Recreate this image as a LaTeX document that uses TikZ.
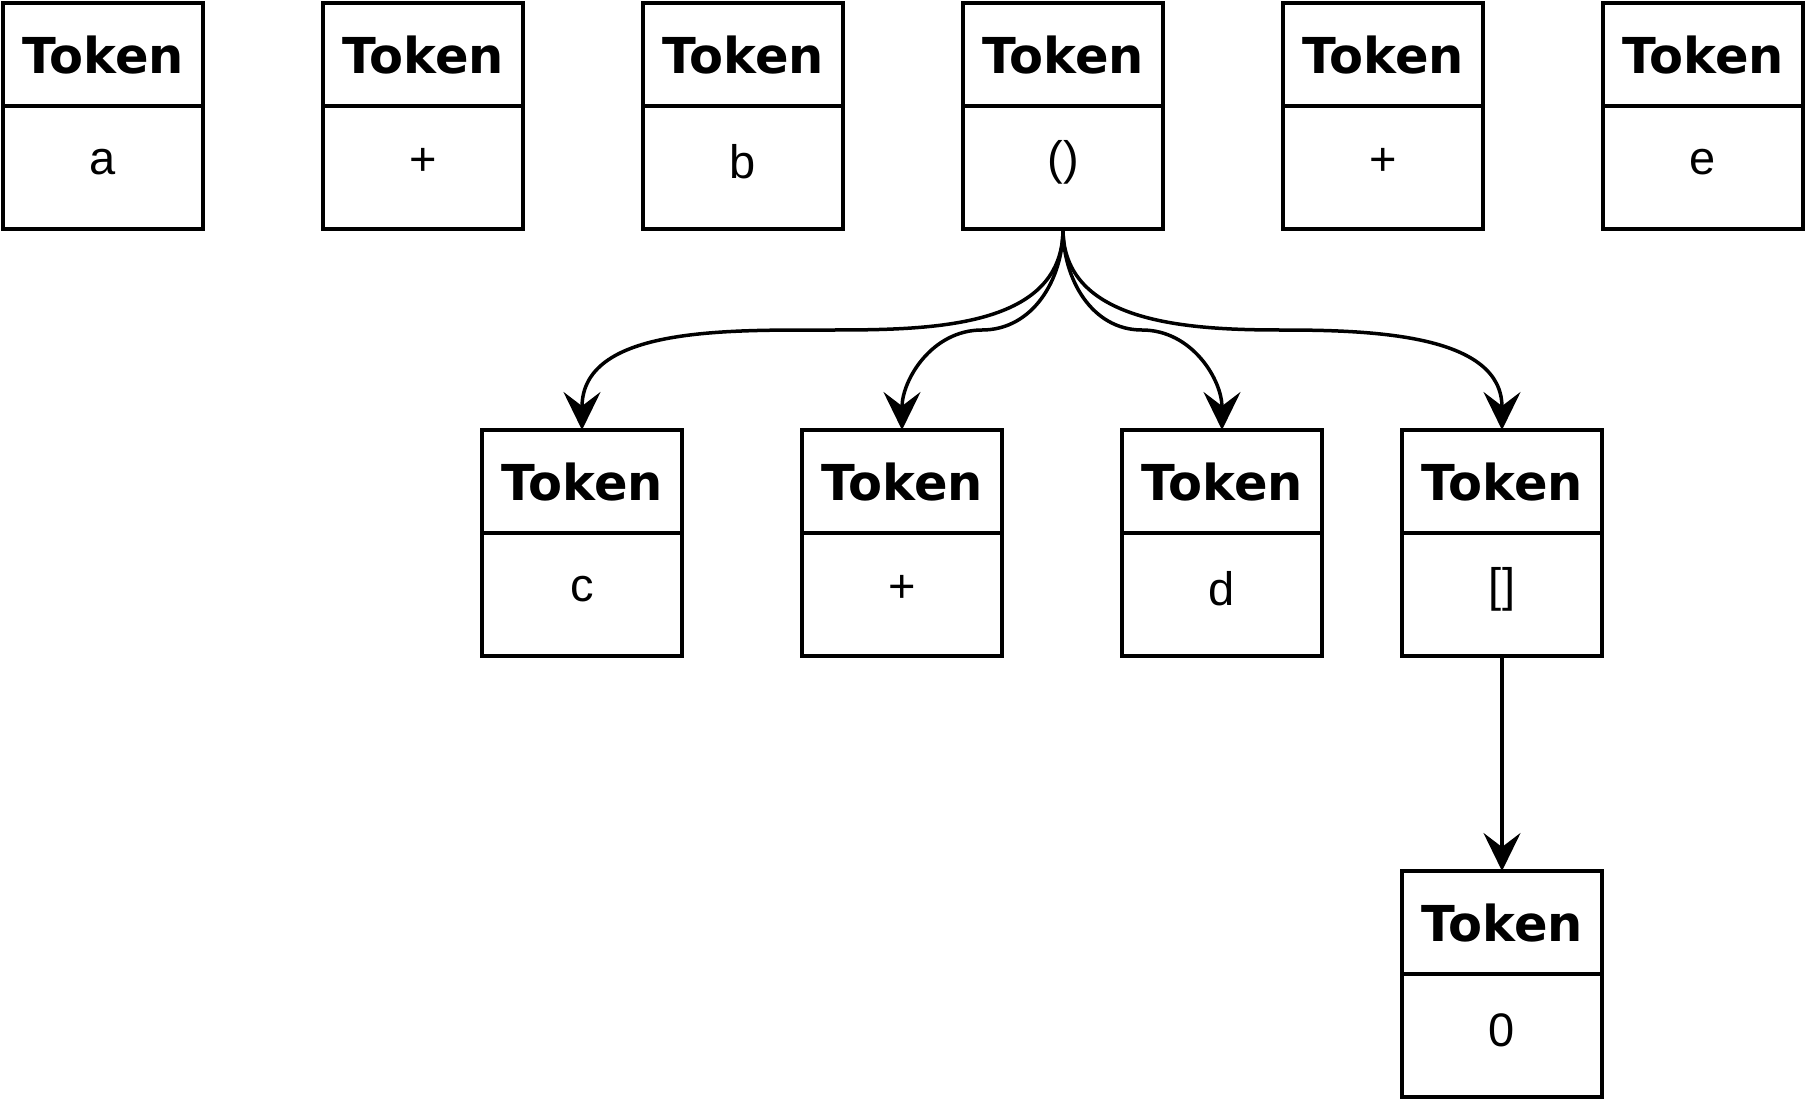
\documentclass[tikz,border=0pt]{standalone}
\usepackage{fontspec}
\usetikzlibrary{arrows.meta}
\newfontfamily\hdrfamily{DejaVu Sans}
\newfontfamily\valfamily{Liberation Sans}
\newcommand\hfont{\hdrfamily\bfseries\fontsize{49.5}{58}\selectfont}
\newcommand\vfont{\valfamily\fontsize{47}{56}\selectfont}
\tikzset{
  tokbox/.style={draw, line width=3.5pt, minimum width=200pt, minimum height=226pt, inner sep=0pt, outer sep=0pt, anchor=north west},
  hdr/.style={font=\hfont, inner sep=0pt},
  val/.style={font=\vfont, inner sep=0pt},
  conn/.style={line width=3.5pt, -{Stealth[length=38pt, width=37pt, inset=14pt]}},
}
\newcommand\tokenbox[4]{%
  \node[tokbox] (#1) at (#2,#3) {};
  \draw[line width=3.5pt] ([yshift=-103pt]#1.north west) -- ([yshift=-103pt]#1.north east);
  \node[hdr] (#1h) at ([yshift=-52pt]#1.north) {Token};
  \node[val] (#1v) at ([yshift=-159pt]#1.north) {#4};
}
\begin{document}
\begin{tikzpicture}[x=1pt,y=-1pt]
\useasboundingbox (0,0) rectangle (1808,1100);
\tokenbox{ta}{3}{3}{a}
\tokenbox{tp}{323}{3}{+}
\tokenbox{tb}{643}{3}{b}
\tokenbox{tpar}{963}{3}{()}
\tokenbox{tp2}{1283}{3}{+}
\tokenbox{te}{1603}{3}{e}
\tokenbox{tc}{482}{430}{c}
\tokenbox{tp3}{802}{430}{+}
\tokenbox{td}{1122}{430}{d}
\tokenbox{tbr}{1402}{430}{[]}
\tokenbox{tz}{1402}{871}{0}
\coordinate (m1) at (822,330);
\coordinate (m2) at (982,330);
\coordinate (m3) at (1142,330);
\coordinate (m4) at (1282,330);
\draw[conn] (tpar.south) to[out=-90,in=0] (m1) to[out=180,in=90] (tc.north);
\draw[conn] (tpar.south) to[out=-90,in=0] (m2) to[out=180,in=90] (tp3.north);
\draw[conn] (tpar.south) to[out=-90,in=180] (m3) to[out=0,in=90] (td.north);
\draw[conn] (tpar.south) to[out=-90,in=180] (m4) to[out=0,in=90] (tbr.north);
\draw[conn] (tbr.south) -- (tz.north);
\end{tikzpicture}
\end{document}
